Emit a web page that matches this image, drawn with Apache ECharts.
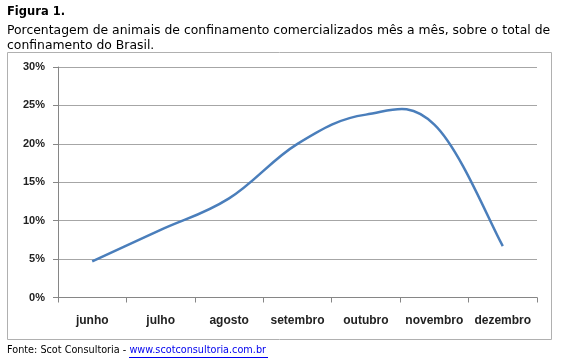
<!DOCTYPE html>
<html>
<head>
<meta charset="utf-8">
<script src="https://cdn.jsdelivr.net/npm/echarts@6/dist/echarts.min.js"></script>
<style>
html,body{margin:0;padding:0;background:#fff;}
#c{width:561px;height:363px;}
</style>
</head>
<body>
<div id="c"></div>
<script>
const categories = ['junho','julho','agosto','setembro','outubro','novembro','dezembro'];
const values = [4.7, 8.8, 12.9, 20.0, 23.8, 22.5, 6.7];
const yTicks = [0, 5, 10, 15, 20, 25, 30];

const titleFont = '"DejaVu Sans", Verdana, sans-serif';
const axisFont = '"Liberation Sans", Arial, sans-serif';

// Excel-like smoothed line (cardinal Bezier) through the data points, positioned via api.coord
const SMOOTH_K = 0.19;
function renderSmooth(params, api) {
  if (params.dataIndex !== 0) return null;
  const pts = values.map((v, i) => api.coord([i, v]));
  const n = pts.length;
  const P = i => pts[Math.max(0, Math.min(n - 1, i))];
  let d = 'M' + pts[0][0] + ' ' + pts[0][1];
  for (let i = 0; i < n - 1; i++) {
    const p0 = P(i - 1), p1 = P(i), p2 = P(i + 1), p3 = P(i + 2);
    const c1x = p1[0] + (p2[0] - p0[0]) * SMOOTH_K, c1y = p1[1] + (p2[1] - p0[1]) * SMOOTH_K;
    const c2x = p2[0] - (p3[0] - p1[0]) * SMOOTH_K, c2y = p2[1] - (p3[1] - p1[1]) * SMOOTH_K;
    d += ' C' + c1x + ' ' + c1y + ' ' + c2x + ' ' + c2y + ' ' + p2[0] + ' ' + p2[1];
  }
  return {
    type: 'path',
    shape: { pathData: d },
    style: { fill: null, stroke: '#4a7ebb', lineWidth: 2.5, lineJoin: 'round', lineCap: 'butt' }
  };
}

const chart = echarts.init(document.getElementById('c'), null, {renderer:'canvas'});
chart.setOption({
  animation:false,
  backgroundColor:'#fff',
  grid:{left:58, right:24, top:67, bottom:65.5, containLabel:false},
  xAxis:{
    type:'category',
    data:categories,
    boundaryGap:true,
    axisLine:{lineStyle:{color:'#868686', width:1}},
    axisTick:{show:true, interval:0, length:5, lineStyle:{color:'#868686'}},
    axisLabel:{interval:0, color:'#222', fontFamily:axisFont, fontSize:12, fontWeight:'bold', margin:17}
  },
  yAxis:{
    type:'value',
    min:yTicks[0], max:yTicks[yTicks.length-1], interval:5,
    axisLine:{show:true, lineStyle:{color:'#868686', width:1}},
    axisTick:{show:true, length:5, lineStyle:{color:'#868686'}},
    axisLabel:{color:'#222', fontFamily:axisFont, fontSize:11, fontWeight:'bold', margin:13,
      formatter:v=>v+'%'},
    splitLine:{lineStyle:{color:'#a6a6a6', width:1}}
  },
  series:[{
    type:'custom',
    coordinateSystem:'cartesian2d',
    data:values.map((v, i) => [i, v]),
    encode:{x:0, y:1},
    renderItem:renderSmooth,
    silent:true
  }],
  graphic:[
    {type:'rect', shape:{x:7.5, y:52.5, width:544, height:287}, style:{fill:null, stroke:'#b0b0b0', lineWidth:1}, z:-1},
    {type:'text', left:7, top:6, style:{text:'Figura 1.', font:'bold 11.5px '+titleFont, fill:'#000'}},
    {type:'text', left:7, top:23, style:{text:'Porcentagem de animais de confinamento comercializados mês a mês, sobre o total de\nconfinamento do Brasil.', font:'12.4px '+titleFont, fill:'#000', lineHeight:15}},
    {type:'text', left:7, top:345, style:{
      text:'{a|Fonte: Scot Consultoria - }{b|www.scotconsultoria.com.br}',
      rich:{
        a:{font:'9.7px '+titleFont, fill:'#000'},
        b:{font:'9.7px '+titleFont, fill:'#0000ee'}
      }
    }},
    {type:'line', shape:{x1:129, y1:357.5, x2:268, y2:357.5}, style:{stroke:'#0000ee', lineWidth:1}}
  ]
});
</script>
</body>
</html>
